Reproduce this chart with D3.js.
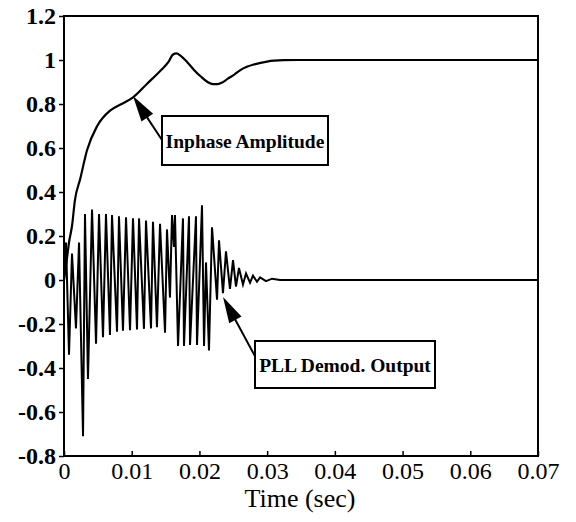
<!DOCTYPE html>
<html>
<head>
<meta charset="utf-8">
<script src="https://cdn.jsdelivr.net/npm/d3@7"></script>
<style>
  body { margin: 0; background: #fff; }
  text { font-family: "Liberation Serif", "DejaVu Serif", serif; fill: #000; }
</style>
</head>
<body>
<div id="chart"></div>
<script>
'use strict'

// inphase amplitude, time in ms
var ampTime  = [0, 0.4, 0.74, 1.2, 1.6, 2.4, 3.4, 4.9, 6.8, 8.5, 10.2, 12.2, 14.2, 15.4, 16.1, 16.6, 17.2, 18.2, 19.2, 20.2, 21.2, 22.0, 22.6, 23.2, 24.2, 25.2, 26.1, 27.1, 28.1, 30.0, 32.4, 34.5, 70];
var ampValue = [0, 0.09, 0.17, 0.25, 0.36, 0.46, 0.59, 0.70, 0.77, 0.80, 0.83, 0.89, 0.95, 0.99, 1.025, 1.03, 1.02, 0.99, 0.955, 0.925, 0.90, 0.89, 0.89, 0.895, 0.915, 0.935, 0.955, 0.97, 0.98, 0.993, 0.999, 1, 1];

// PLL demodulator output, extrema, time in ms
var pllTime  = [0, 0.30, 0.74, 1.18, 1.77, 2.22, 2.81, 3.10, 3.54, 4.14, 4.73, 5.17, 5.76, 6.20, 6.79, 7.09, 7.83, 8.12, 8.71, 9.16, 9.75, 10.19, 10.78, 11.08, 11.81, 12.11, 12.85, 13.14, 13.73, 14.18, 14.92, 15.21, 15.65, 15.95, 16.24, 16.39, 16.84, 17.57, 17.72, 18.46, 18.61, 19.49, 19.64, 20.38, 20.68, 20.97, 21.41, 21.86, 22.60, 22.89, 23.48, 23.92, 24.51, 24.96, 25.40, 25.84, 26.43, 26.88, 27.47, 27.91, 28.50, 28.95, 29.83, 30.72, 31.90, 33.38, 70];
var pllValue = [0, 0.17, -0.34, 0.12, -0.22, 0.17, -0.71, 0.30, -0.45, 0.32, -0.29, 0.30, -0.26, 0.30, -0.25, 0.295, -0.235, 0.29, -0.23, 0.285, -0.228, 0.28, -0.225, 0.28, -0.222, 0.27, -0.22, 0.265, -0.215, 0.255, -0.24, 0.23, -0.08, 0.295, 0.15, 0.295, -0.30, 0.28, -0.30, 0.29, -0.295, 0.29, -0.295, 0.34, -0.30, 0.08, -0.32, 0.24, -0.09, 0.18, -0.06, 0.13, -0.04, 0.09, -0.03, 0.055, -0.02, 0.03, -0.012, 0.02, -0.008, 0.012, -0.005, 0.006, 0, 0, 0];

var xTicks = [0, 0.01, 0.02, 0.03, 0.04, 0.05, 0.06, 0.07];
var yTicks = [-0.8, -0.6, -0.4, -0.2, 0, 0.2, 0.4, 0.6, 0.8, 1, 1.2];

var W = 576, H = 522,
    plotL = 64, plotR = 538, plotT = 16, plotB = 456;

var svg = d3.select("#chart").append("svg")
    .attr("width", W).attr("height", H);

var x = d3.scaleLinear().domain([0, 0.07]).range([plotL, plotR]);
var y = d3.scaleLinear().domain([-0.8, 1.2]).range([plotB, plotT]);

function pairs(ts, vs) {
    return ts.map(function (t, i) { return [t / 1000, vs[i]]; });
}

var line = d3.line()
    .x(function (d) { return x(d[0]); })
    .y(function (d) { return y(d[1]); });

svg.append("path")
    .datum(pairs(pllTime, pllValue))
    .attr("d", line)
    .attr("fill", "none")
    .attr("stroke", "#000")
    .attr("stroke-width", 2)
    .attr("stroke-linejoin", "miter");

svg.append("path")
    .datum(pairs(ampTime, ampValue))
    .attr("d", line.curve(d3.curveMonotoneX))
    .attr("fill", "none")
    .attr("stroke", "#000")
    .attr("stroke-width", 2.2);

// frame
svg.append("rect")
    .attr("x", plotL).attr("y", plotT)
    .attr("width", plotR - plotL).attr("height", plotB - plotT)
    .attr("fill", "none").attr("stroke", "#000").attr("stroke-width", 2);

// axes
var xAxis = d3.axisBottom(x).tickValues(xTicks).tickSizeInner(-5).tickSizeOuter(0)
    .tickFormat(function (d) { return d === 0 ? "0" : d3.format(".2f")(d); });
var gx = svg.append("g").attr("transform", "translate(0," + plotB + ")").call(xAxis);
gx.select(".domain").remove();
gx.selectAll("line").attr("stroke", "#000").attr("stroke-width", 1.5);
gx.selectAll("text").attr("font-size", 24).attr("y", 23).attr("dy", null)
    .style("font-family", "Liberation Serif, serif");

var yAxis = d3.axisLeft(y).tickValues(yTicks).tickSizeInner(5).tickSizeOuter(0)
    .tickFormat(function (d) { return String(+d.toFixed(1)); });
var gy = svg.append("g").attr("transform", "translate(" + plotL + ",0)").call(yAxis);
gy.select(".domain").remove();
gy.selectAll("line").attr("stroke", "#000").attr("stroke-width", 1.5);
gy.selectAll("text").attr("font-size", 24).attr("font-weight", "bold").attr("x", -8)
    .style("font-family", "Liberation Serif, serif");

svg.append("text")
    .attr("x", 300).attr("y", 507)
    .attr("text-anchor", "middle")
    .attr("font-size", 26)
    .text("Time (sec)");

// annotations
var notes = [
    { label: "Inphase Amplitude", box: [162, 116, 166, 49], tip: [133, 96], tail: [162, 140] },
    { label: "PLL Demod. Output", box: [255, 341, 180, 47], tip: [223, 297], tail: [256, 358] }
];

notes.forEach(function (n) {
    var dx = n.tail[0] - n.tip[0], dy = n.tail[1] - n.tip[1],
        len = Math.sqrt(dx * dx + dy * dy), ux = dx / len, uy = dy / len,
        hl = 26, hw = 7;
    svg.append("line")
        .attr("x1", n.tip[0] + ux * 10).attr("y1", n.tip[1] + uy * 10)
        .attr("x2", n.tail[0]).attr("y2", n.tail[1])
        .attr("stroke", "#000").attr("stroke-width", 2);
    var bx = n.tip[0] + ux * hl, by = n.tip[1] + uy * hl;
    svg.append("path")
        .attr("d", "M" + n.tip[0] + "," + n.tip[1] +
            "L" + (bx - uy * hw) + "," + (by + ux * hw) +
            "L" + (bx + uy * hw) + "," + (by - ux * hw) + "Z")
        .attr("fill", "#000");
    svg.append("rect")
        .attr("x", n.box[0]).attr("y", n.box[1])
        .attr("width", n.box[2]).attr("height", n.box[3])
        .attr("fill", "#fff").attr("stroke", "#000").attr("stroke-width", 2);
    svg.append("text")
        .attr("x", n.box[0] + n.box[2] / 2).attr("y", n.box[1] + n.box[3] / 2 + 7)
        .attr("text-anchor", "middle")
        .attr("font-size", 19.5).attr("font-weight", "bold")
        .text(n.label);
});
</script>
</body>
</html>
